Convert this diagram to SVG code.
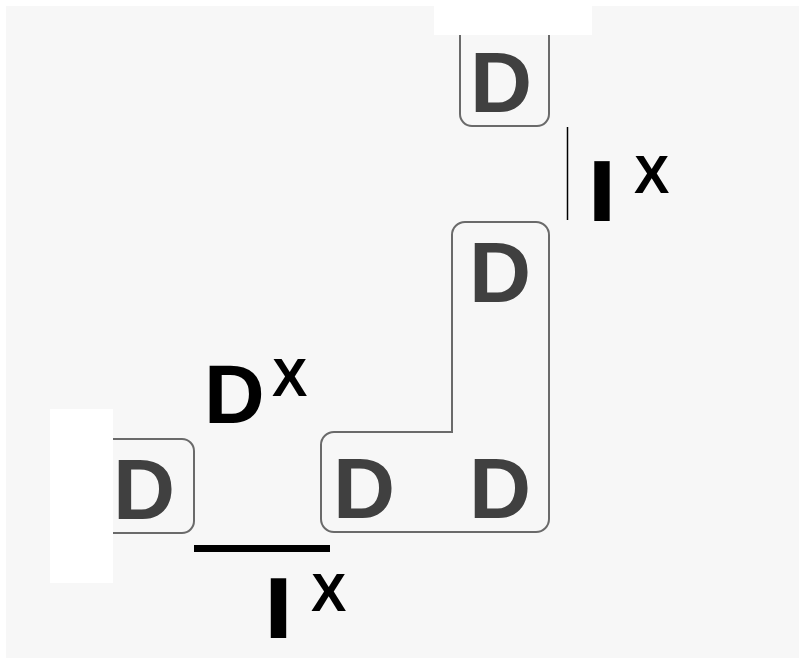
<svg xmlns="http://www.w3.org/2000/svg" width="799" height="658" viewBox="0 0 799 658">
  <style>
    .box { fill: none; stroke: #6a6a6a; stroke-width: 2; }
    .cell { font-family: "Liberation Sans", Arial, sans-serif; font-weight: bold; font-size: 86px; fill: #404040; text-anchor: middle; }
    .big { font-family: "Liberation Sans", Arial, sans-serif; font-weight: bold; font-size: 84px; fill: #000; }
    .bar { font-family: "DejaVu Sans", sans-serif; font-weight: bold; font-size: 82px; fill: #000; text-anchor: middle; }
    .sup { font-family: "Liberation Sans", Arial, sans-serif; font-weight: bold; font-size: 53px; fill: #000; }
    .mask { fill: #ffffff; }
  </style>

  <!-- canvas -->
  <rect x="0" y="0" width="799" height="658" fill="#ffffff"/>
  <rect x="6" y="6" width="793" height="652" fill="#f7f7f7"/>

  <!-- single cell at the top -->
  <g id="node-top">
    <rect class="box" x="460" y="10" width="89" height="116" rx="12" ry="12"/>
    <text class="cell" x="501" y="112">D</text>
  </g>

  <!-- L-shaped block of three cells -->
  <g id="node-l">
    <path class="box" d="M452,432 L452,235 A13,13 0 0 1 465,222 L536,222 A13,13 0 0 1 549,235 L549,519 A13,13 0 0 1 536,532 L334,532 A13,13 0 0 1 321,519 L321,445 A13,13 0 0 1 334,432 Z"/>
    <text class="cell" x="500" y="302">D</text>
    <text class="cell" x="364" y="518">D</text>
    <text class="cell" x="500" y="518">D</text>
  </g>

  <!-- single cell on the left -->
  <g id="node-left">
    <rect class="box" x="60" y="439" width="134" height="94" rx="12" ry="12"/>
    <text class="cell" x="144" y="519">D</text>
  </g>

  <!-- white patches over the cut-off cells -->
  <rect class="mask" x="434" y="6" width="158" height="29"/>
  <rect class="mask" x="50" y="409" width="63" height="174"/>

  <!-- separators -->
  <g id="connectors">
    <line x1="567.5" y1="127" x2="567.5" y2="220" stroke="#000" stroke-width="1.5"/>
    <rect x="194" y="545" width="136" height="7" fill="#000"/>
  </g>

  <!-- labels -->
  <g id="label-dx">
    <text class="big" x="204" y="423">D</text>
    <text class="sup" x="272" y="396">X</text>
  </g>
  <g id="label-ix-top">
    <text class="bar" x="602" y="221">I</text>
    <text class="sup" x="634" y="193">X</text>
  </g>
  <g id="label-ix-bottom">
    <text class="bar" x="278.5" y="638">I</text>
    <text class="sup" x="311" y="611">X</text>
  </g>
</svg>
